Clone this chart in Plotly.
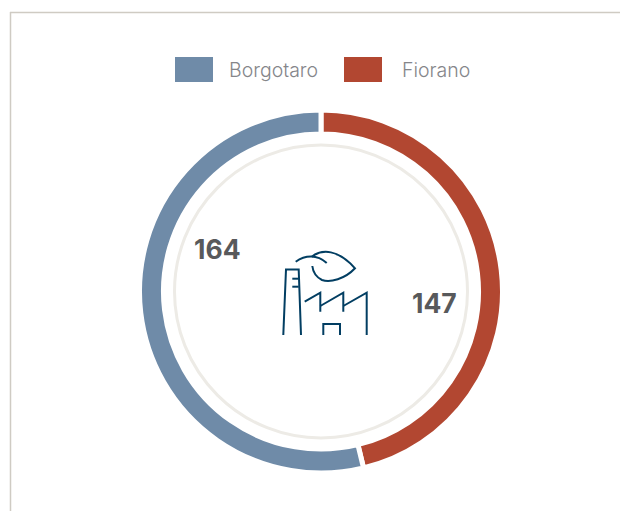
import plotly.graph_objects as go

categories = ["Fiorano", "Borgotaro"]
# Numbers as printed on the chart.
printed_values = [147, 164]
# Arc sizes (the gap sits near 166.4 deg, not the
# 170.2 deg that 147/311 would give), on the same 311 total. The reference's
# arcs are not quite proportional to its printed numbers.
arc_values = [143.8, 167.2]
colors = ["#B24731", "#6F8BA8"]

W, H = 620, 511
CX, CY, R = 321, 291.5, 181.5
FONT = "Inter"
INK = "#023E62"


def px(x):
    return x / W


def py(y):
    return 1 - y / H


def path(d):
    out = []
    for tok in d.split():
        if "," in tok:
            a, b = tok.split(",")
            out.append(f"{px(float(a)):.5f},{py(float(b)):.5f}")
        else:
            out.append(tok)
    return " ".join(out)


fig = go.Figure(go.Pie(
    labels=categories, values=arc_values, sort=False, direction="clockwise", rotation=0,
    hole=0.868, textinfo="none", customdata=printed_values,
    hovertemplate="%{label}: %{customdata}<extra></extra>", showlegend=False,
    marker=dict(colors=colors, line=dict(color="white", width=5)),
    domain=dict(x=[px(CX - R), px(CX + R)], y=[py(CY + R), py(CY - R)]),
))

shapes = [
    dict(type="line", xref="paper", yref="paper", x0=px(10.5), x1=px(10.5), y0=py(12), y1=py(511),
         line=dict(color="#CFCBC3", width=1.5)),
    dict(type="line", xref="paper", yref="paper", x0=px(10), x1=px(620), y0=py(12.5), y1=py(12.5),
         line=dict(color="#CFCBC3", width=1.5)),
    dict(type="circle", xref="paper", yref="paper", x0=px(CX - 146.5), x1=px(CX + 146.5),
         y0=py(CY + 146.5), y1=py(CY - 146.5), line=dict(color="#EDEBE6", width=3)),
    dict(type="rect", xref="paper", yref="paper", x0=px(175), x1=px(213), y0=py(82), y1=py(57),
         fillcolor=colors[1], line=dict(width=0)),
    dict(type="rect", xref="paper", yref="paper", x0=px(344), x1=px(382), y0=py(82), y1=py(57),
         fillcolor=colors[0], line=dict(width=0)),
]

icon = [
    "M 283.3,335 L 286,269.5 L 298.7,269.5 L 301,335",
    "M 292.3,278.7 L 298.7,278.7",
    "M 292.3,286.7 L 298.7,286.7",
    "M 304.7,301.7 L 320.3,292.7 L 320.3,311.7",
    "M 320.3,306 L 343.3,292.7 L 343.3,311.7",
    "M 343.3,306 L 366.7,292.7 L 366.7,335",
    "M 323.3,335 L 323.3,324 L 340,324 L 340,335",
    "M 295.7,261.7 C 305,255 317,254 326.7,263",
    "M 311.7,256.7 C 322,249 338,249 355,268.3 C 345,279 330,283 322,280 C 316,277 313,272 312.3,266",
]
for d in icon:
    shapes.append(dict(type="path", xref="paper", yref="paper", path=path(d),
                       line=dict(color=INK, width=2)))


def label(x, y, text, size, color, weight, anchor="center"):
    return dict(xref="paper", yref="paper", x=px(x), y=py(y), text=text, showarrow=False,
                xanchor=anchor, yanchor="middle",
                font=dict(family=FONT, size=size, color=color, weight=weight))


annotations = [
    label(226.5, 69.5, categories[1], 19.5, "#85868A", 300, "left"),
    label(399.5, 69.5, categories[0], 19.5, "#85868A", 300, "left"),
    label(217, 249, str(printed_values[1]), 26.5, "#58595B", 700),
    label(434, 303, str(printed_values[0]), 26.5, "#58595B", 700),
]

fig.update_layout(width=W, height=H, margin=dict(l=0, r=0, t=0, b=0),
                  paper_bgcolor="white", plot_bgcolor="white",
                  shapes=shapes, annotations=annotations)
fig.write_html("out.html", config=dict(displayModeBar=False),
               post_script="document.body.style.margin='0';document.documentElement.style.overflow='hidden';")
